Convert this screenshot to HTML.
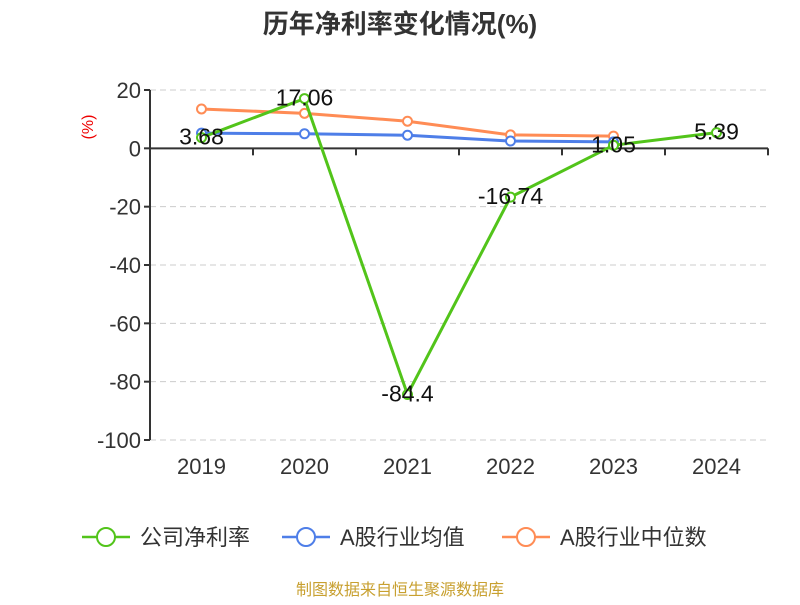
<!DOCTYPE html>
<html><head><meta charset="utf-8"><style>
body{margin:0;background:#fff;}
svg text{font-family:"Liberation Sans","Noto Sans CJK SC",sans-serif;}
</style></head><body>
<svg width="800" height="600" xmlns="http://www.w3.org/2000/svg" id="chart">
<text x="400" y="33" text-anchor="middle" font-size="26" font-weight="bold" fill="#333">历年净利率变化情况(%)</text>
<text transform="translate(93,127) rotate(-90)" text-anchor="middle" font-size="16" fill="#e00">(%)</text>
<g id="grid"></g><g id="axes"></g><g id="series"></g><g id="labels"></g>
<g>
<g><line x1="82" y1="537" x2="130" y2="537" stroke="#52c41a" stroke-width="2.5"/><circle cx="106" cy="537" r="9" fill="#fff" stroke="#52c41a" stroke-width="2"/><text x="140" y="545" font-size="22" fill="#333">公司净利率</text></g>
<g><line x1="282" y1="537" x2="330" y2="537" stroke="#4e7ee8" stroke-width="2.5"/><circle cx="306" cy="537" r="9" fill="#fff" stroke="#4e7ee8" stroke-width="2"/><text x="340" y="545" font-size="22" fill="#333">A股行业均值</text></g>
<g><line x1="502" y1="537" x2="550" y2="537" stroke="#ff8c55" stroke-width="2.5"/><circle cx="526" cy="537" r="9" fill="#fff" stroke="#ff8c55" stroke-width="2"/><text x="560" y="545" font-size="22" fill="#333">A股行业中位数</text></g>
</g>
<text x="400" y="595" text-anchor="middle" font-size="16" fill="#c8a030">制图数据来自恒生聚源数据库</text>
</svg>
<script>
const categories=["2019","2020","2021","2022","2023","2024"];
const netMargin=[3.68,17.06,-84.4,-16.74,1.05,5.39];
const industryAvg=[5.2,5.0,4.5,2.5,2.2,null];
const industryMedian=[13.5,12.0,9.3,4.6,4.2,null];
const yTicks=[20,0,-20,-40,-60,-80,-100];
const NS="http://www.w3.org/2000/svg";
const x0=150,x1=768,band=(x1-x0)/categories.length;
const yTop=90,yBot=440,yMax=20,yMin=-100;
function X(i){return x0+band*(i+0.5);}
function Y(v){return yTop+(yMax-v)/(yMax-yMin)*(yBot-yTop);}
function mk(tag,attrs,parent){const e=document.createElementNS(NS,tag);for(const k in attrs)e.setAttribute(k,attrs[k]);parent.appendChild(e);return e;}
const grid=document.getElementById('grid'),axes=document.getElementById('axes'),ser=document.getElementById('series'),lab=document.getElementById('labels');
yTicks.forEach(t=>{
 if(t!==0){const g=mk('line',{x1:x0,x2:x1,y1:Y(t),y2:Y(t),stroke:'#ccc','stroke-dasharray':'6,4'},grid);
 
 }
 const tk=mk('line',{x1:x0-6,x2:x0,y1:Y(t),y2:Y(t),stroke:'#333','stroke-width':2},axes);
 
 
 const tl=mk('text',{x:x0-9,y:Y(t)+8,'text-anchor':'end','font-size':22,fill:'#333'},axes);tl.textContent=t;
 
 
});
const ya=mk('line',{x1:x0,x2:x0,y1:yTop,y2:yBot,stroke:'#333','stroke-width':2},axes);


const xa=mk('line',{x1:x0,x2:x1,y1:Y(0),y2:Y(0),stroke:'#333','stroke-width':2},axes);


for(let i=0;i<=categories.length;i++){const t=mk('line',{x1:x0+band*i,x2:x0+band*i,y1:Y(0),y2:Y(0)+7,stroke:'#333','stroke-width':2},axes);
 
 }
categories.forEach((c,i)=>{const t=mk('text',{x:X(i),y:474,'text-anchor':'middle','font-size':22,fill:'#333'},axes);t.textContent=c;
 
 });
function series(vals,color,name){
 const pts=[];vals.forEach((v,i)=>{if(v!==null)pts.push([X(i),Y(v)]);});
 const p=mk('polyline',{points:pts.map(p=>p.join(',')).join(' '),fill:'none',stroke:color,'stroke-width':3},ser);
 
 
 pts.forEach(pt=>{const c=mk('circle',{cx:pt[0],cy:pt[1],r:4.5,fill:'#fff',stroke:color,'stroke-width':2},ser);
 
 });
}
series(industryMedian,'#ff8c55','industry-median');
series(industryAvg,'#4e7ee8','industry-avg');
series(netMargin,'#52c41a','net-margin');
netMargin.forEach((v,i)=>{const t=mk('text',{x:X(i),y:Y(v)+7,'text-anchor':'middle','font-size':23,fill:'#111'},lab);t.textContent=v;
 
 });
</script>
</body></html>
